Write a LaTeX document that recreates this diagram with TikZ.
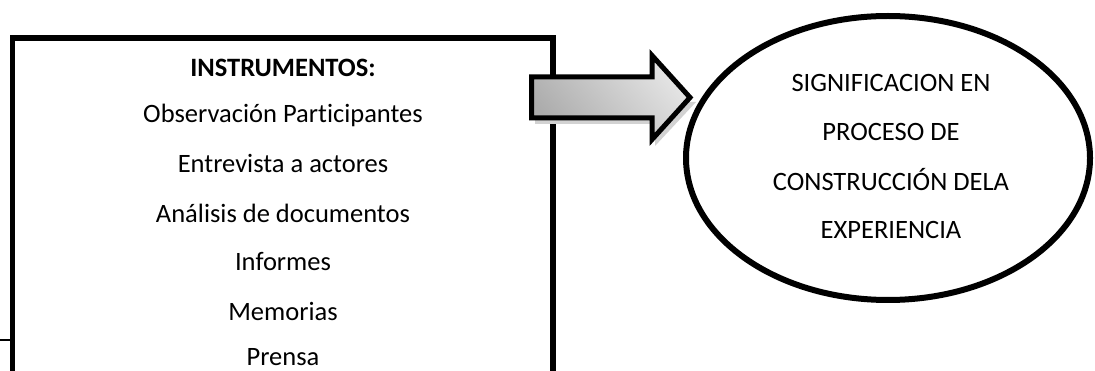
\documentclass[tikz,border=0pt]{standalone}
\usepackage{fontspec}
\setmainfont[Ligatures={NoCommon}]{Carlito}
\begin{document}
\begin{tikzpicture}[x=1pt,y=-1pt,
  txt/.style={font=\fontsize{26.5}{30}\selectfont, inner sep=0pt, anchor=center},
  frame/.style={draw=black, line width=5.5pt},
  arrowbody/.style={draw=black, line width=5pt, line join=miter, top color=gray!20, bottom color=gray!65, shading angle=-50},
  arrowshadow/.style={fill=gray!35, draw=none}
]
\clip (0,0) rectangle (1095,371);
\fill[white] (0,0) rectangle (1095,371);
% left box
\draw[frame] (12.5,38) rectangle (553,400);
\coordinate (stubL) at (0,340);
\coordinate (stubR) at (10,340);
\draw[line width=1.2pt] (stubL) -- (stubR);
\node[txt, font=\fontsize{26.5}{30}\selectfont\bfseries] (t1) at (283,68) {INSTRUMENTOS:};
\node[txt] (t2) at (283,115) {Observación Participantes};
\node[txt] (t3) at (283,163) {Entrevista a actores};
\node[txt] (t4) at (283,213) {Análisis de documentos};
\node[txt] (t5) at (283,262) {Informes};
\node[txt] (t6) at (283,311) {Memorias};
\node[txt] (t7) at (283,357) {Prensa};
% block arrow shadow
\path[arrowshadow] (535,100) -- (535,124) -- (655,124) -- (655,146) -- (696,102) -- cycle;
% block arrow
\path[arrowbody] (531.5,77) -- (652,77) -- (652,55.5) -- (690,97.5) -- (652,139.5) -- (652,118) -- (531.5,118) -- cycle;
% ellipse
\draw[line width=6pt] (888,158) ellipse [x radius=202, y radius=142];
\node[txt] (e1) at (891,83) {SIGNIFICACION EN};
\node[txt] (e2) at (891,132) {PROCESO DE};
\node[txt] (e3) at (891,180) {CONSTRUCCIÓN DELA};
\node[txt] (e4) at (891,230) {EXPERIENCIA};
\end{tikzpicture}
\end{document}
